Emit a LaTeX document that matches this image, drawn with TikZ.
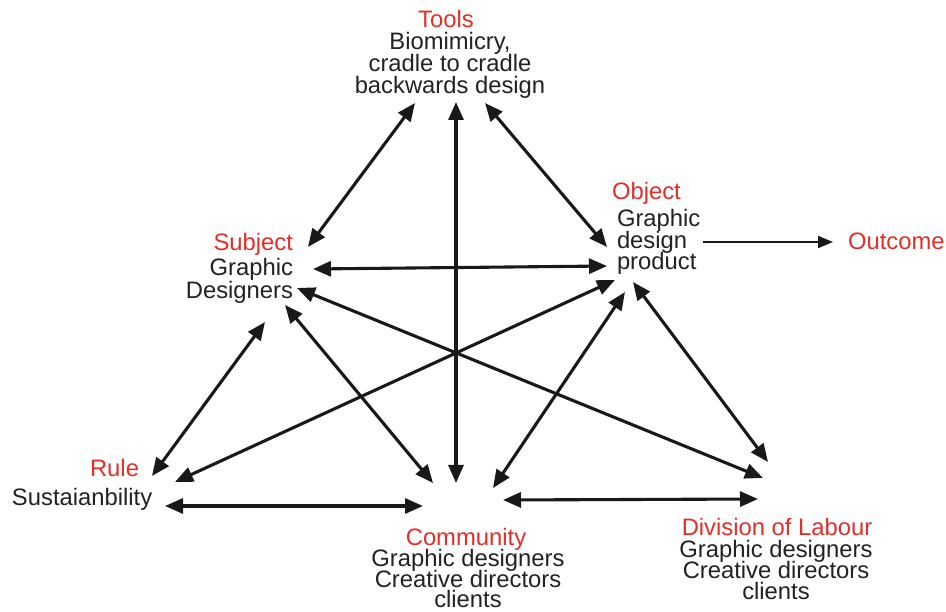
\documentclass[tikz,border=0pt]{standalone}
\usepackage{fontspec}
\setmainfont{Liberation Sans}
\usetikzlibrary{arrows.meta}
\definecolor{lblred}{RGB}{226,46,40}
\definecolor{txtblk}{RGB}{35,33,33}
\begin{document}
\begin{tikzpicture}[x=1pt,y=-1pt,
  every node/.style={inner sep=0pt,outer sep=0pt,font=\fontsize{23.8}{24}\selectfont,text=txtblk,text height=15pt,text depth=3pt},
  title/.style={text=lblred},
  biarrow/.style={line width=3.1pt,draw=black!90,{Triangle[length=18pt,width=15pt]}-{Triangle[length=18pt,width=15pt]}},
  outarrow/.style={line width=2pt,draw=black!90,-{Triangle[length=15pt,width=12pt]}}]
\useasboundingbox (0,0) rectangle (946,612);
% Tools
\node[title,anchor=base] (tools) at (446,28) {Tools};
\node[anchor=base] (tools1) at (450,50) {Biomimicry,};
\node[anchor=base] (tools2) at (450,72) {cradle to cradle};
\node[anchor=base] (tools3) at (450,94) {backwards design};
% Subject
\node[title,anchor=base east] (subj) at (293,251) {Subject};
\node[anchor=base east] (subj1) at (293,276) {Graphic};
\node[anchor=base east] (subj2) at (293,299) {Designers};
% Object
\node[title,anchor=base west] (obj) at (612,200) {Object};
\node[anchor=base west] (obj1) at (617,227) {Graphic};
\node[anchor=base west] (obj2) at (617,249) {design};
\node[anchor=base west] (obj3) at (617,270) {product};
% Outcome
\node[title,anchor=base west] (outc) at (848,250) {Outcome};
% Rule
\node[title,anchor=base east] (rule) at (139,477) {Rule};
\node[anchor=base west] (rule1) at (12,505) {Sustaianbility};
% Community
\node[title,anchor=base] (comm) at (466,545) {Community};
\node[anchor=base] (comm1) at (468,566) {Graphic designers};
\node[anchor=base] (comm2) at (468,587) {Creative directors};
\node[anchor=base] (comm3) at (468,607) {clients};
% Division of Labour
\node[title,anchor=base] (div) at (777,535) {Division of Labour};
\node[anchor=base] (div1) at (776,557) {Graphic designers};
\node[anchor=base] (div2) at (776,578) {Creative directors};
\node[anchor=base] (div3) at (776,599) {clients};
% arrow end points
\coordinate (toolsL) at (415,103);
\coordinate (toolsM) at (456,102);
\coordinate (toolsR) at (485,103);
\coordinate (subjT) at (308,247);
\coordinate (subjO) at (313,269);
\coordinate (subjD) at (297,288);
\coordinate (subjC) at (285,305);
\coordinate (subjR) at (265,322);
\coordinate (objT) at (607,247);
\coordinate (objS) at (607,266);
\coordinate (objR) at (615,280);
\coordinate (objC) at (625,292);
\coordinate (objD) at (633,282);
\coordinate (objOut) at (703,242);
\coordinate (outIn) at (833,242);
\coordinate (ruleS) at (152,476);
\coordinate (ruleO) at (175,482);
\coordinate (ruleC) at (165,506);
\coordinate (commR) at (423,506);
\coordinate (commS) at (433,483);
\coordinate (commT) at (456,483);
\coordinate (commO) at (493,488);
\coordinate (commD) at (503,500);
\coordinate (divC) at (758,499);
\coordinate (divS) at (763,478);
\coordinate (divO) at (768,462);
% connectors
\draw[biarrow] (toolsL) -- (subjT);
\draw[biarrow] (toolsR) -- (objT);
\draw[biarrow] (toolsM) -- (commT);
\draw[biarrow] (subjO) -- (objS);
\draw[biarrow] (subjR) -- (ruleS);
\draw[biarrow] (subjC) -- (commS);
\draw[biarrow] (subjD) -- (divS);
\draw[biarrow] (objR) -- (ruleO);
\draw[biarrow] (objC) -- (commO);
\draw[biarrow] (objD) -- (divO);
\draw[biarrow] (ruleC) -- (commR);
\draw[biarrow] (commD) -- (divC);
\draw[outarrow] (objOut) -- (outIn);
\end{tikzpicture}
\end{document}
